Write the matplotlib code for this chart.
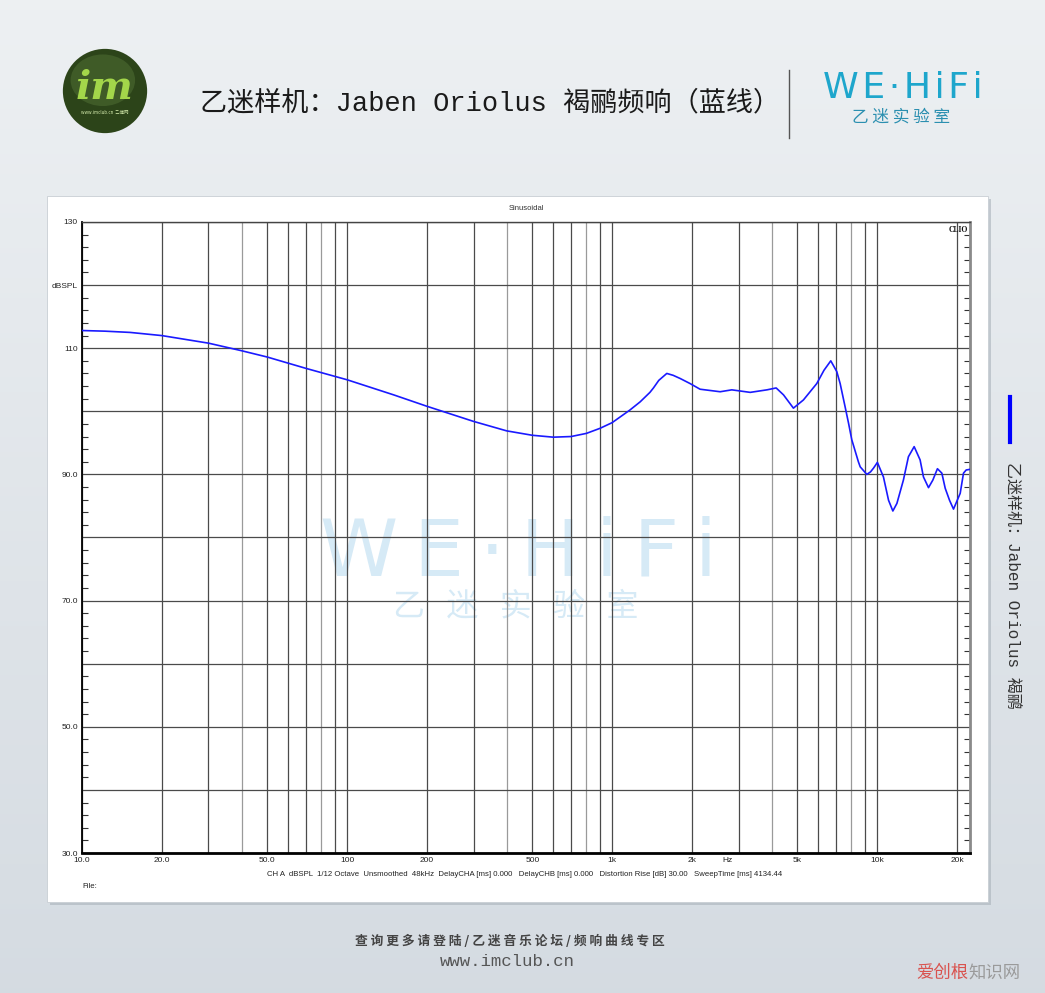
import numpy as np
import matplotlib
matplotlib.use('Agg')
from matplotlib import pyplot as plt
from matplotlib.patches import Rectangle, Circle, Ellipse
from matplotlib.lines import Line2D
from matplotlib.ticker import FixedLocator, FixedFormatter, NullLocator

# frequency response (Hz, dB SPL)
freq = [10, 12.2, 15.2, 20, 30, 40, 50, 70, 100, 150, 200, 300,
        400, 500, 600, 700, 800, 900, 1000, 1167, 1276, 1389, 1432, 1500,
        1608, 1700, 1806, 1968, 2147, 2556, 2829, 3319, 3838, 4159, 4433,
        4831, 5270, 5918, 6300, 6683, 7040, 7250, 7570, 7800, 8020, 8495,
        8630, 9140, 9440, 9690, 10020, 10560, 11040, 11460, 11870, 12560,
        13120, 13790, 14520, 14950, 15620, 16220, 16880, 17540, 18060,
        18750, 19410, 20570, 21170, 21670, 22400]
spl = [112.8, 112.7, 112.5, 112.0, 110.8, 109.6, 108.6, 106.8, 105.0,
       102.6, 100.8, 98.4, 96.9, 96.2, 95.9, 96.0, 96.5, 97.3, 98.2,
       100.2, 101.5, 103.0, 103.7, 104.9, 106.0, 105.7, 105.2, 104.4, 103.5,
       103.1, 103.4, 103.0, 103.4, 103.7, 102.6, 100.5, 101.8, 104.4, 106.5,
       108.0, 106.3, 104.4, 100.7, 98.1, 95.5, 92.0, 91.2, 90.0, 90.4, 91.0,
       91.9, 89.6, 85.9, 84.2, 85.4, 89.1, 92.8, 94.4, 92.3, 89.6, 87.9,
       89.1, 90.9, 90.2, 87.8, 85.9, 84.5, 87.0, 90.2, 90.7, 90.8]

x_labels = {10: '10.0', 20: '20.0', 50: '50.0', 100: '100', 200: '200',
            500: '500', 1000: '1k', 2000: '2k', 2716: 'Hz', 5000: '5k',
            10000: '10k', 20000: '20k'}
y_ticks = [30, 40, 50, 60, 70, 80, 90, 100, 110, 120, 130]
y_labels = ['30.0', '', '50.0', '', '70.0', '', '90.0', '', '110', 'dBSPL', '130']

title = '乙迷样机：Jaben Oriolus 褐鹂频响（蓝线）'
side_title = '乙迷样机：Jaben Oriolus 褐鹂'
info = ('CH A  dBSPL  1/12 Octave  Unsmoothed  48kHz  DelayCHA [ms] 0.000'
        '   DelayCHB [ms] 0.000   Distortion Rise [dB] 30.00   SweepTime [ms] 4134.44')
footer = '查 询 更 多 请 登 陆 / 乙 迷 音 乐 论 坛 / 频 响 曲 线 专 区'
brand = '\u2009'.join('WE·HiFi')
brand_small = '\u200a'.join('WE·HiFi')

CJK = ['Noto Sans CJK SC', 'DejaVu Sans']
MONO_CJK = ['Liberation Mono', 'Noto Sans CJK SC']

W, H = 1045, 993
fig = plt.figure(figsize=(W / 100, H / 100), dpi=100)


def fx(px):
    return px / W


def fy(py):
    return 1 - py / H


# background gradient
bg = fig.add_axes([0, 0, 1, 1], zorder=-10)
top = np.array([0.930, 0.942, 0.952])
bot = np.array([0.835, 0.860, 0.885])
t = np.linspace(0, 1, 200)[:, None, None]
grad = np.repeat(top * (1 - t) + bot * t, 2, axis=1)
bg.imshow(grad, aspect='auto', extent=[0, 1, 0, 1])
bg.set_axis_off()

# white panel with shadow
fig.patches.append(Rectangle((fx(50), fy(905)), fx(941), 706 / H, transform=fig.transFigure,
                             facecolor='#a9b2ba', edgecolor='none', alpha=0.6, zorder=-5))
fig.patches.append(Rectangle((fx(47), fy(902)), fx(941), 706 / H, transform=fig.transFigure,
                             facecolor='white', edgecolor='#c8ced4', lw=0.6, zorder=-4))

# main plot
ax = fig.add_axes([fx(82), fy(853), fx(888), 631 / H])
ax.set_facecolor('white')
ax.set_xscale('log')
ax.set_xlim(10, 22400)
ax.set_ylim(30, 130)

grid_f = [m * 10 ** d for d in range(1, 5) for m in range(1, 10) if m * 10 ** d <= 22400]
for g in grid_f:
    lead = int(round(g / 10 ** int(np.floor(np.log10(g)))))
    col = '#9a9a9a' if lead in (4, 8) else '#4a4a4a'
    ax.axvline(g, color=col, lw=0.9, zorder=1.5)
for yv in y_ticks:
    ax.axhline(yv, color='#4a4a4a', lw=0.9, zorder=1.5)

ax.plot(freq, spl, color='#1a1aff', lw=1.2, zorder=3)

ax.xaxis.set_major_locator(FixedLocator(list(x_labels.keys())))
ax.xaxis.set_major_formatter(FixedFormatter(list(x_labels.values())))
ax.xaxis.set_minor_locator(NullLocator())
ax.set_yticks(y_ticks)
ax.set_yticklabels(y_labels)
ax.set_yticks(np.arange(30, 131, 2), minor=True)
ax.tick_params(axis='both', which='major', length=0, labelsize=6, colors='#222222',
               labelfontfamily='Liberation Sans')
ax.tick_params(axis='x', which='major', pad=3)
ax.tick_params(axis='y', which='major', pad=3)
ax.tick_params(axis='y', which='minor', direction='in', length=4, width=0.8,
               color='#333333', left=True, right=True)

ax.spines['bottom'].set_linewidth(2)
ax.spines['bottom'].set_color('black')
ax.spines['left'].set_linewidth(1.3)
ax.spines['left'].set_color('black')
ax.spines['top'].set_linewidth(1)
ax.spines['top'].set_color('#444444')
ax.spines['right'].set_linewidth(2)
ax.spines['right'].set_color('#8a8a8a')

# watermark behind grid
ax.text(0.491, 0.474, brand, transform=ax.transAxes, ha='center', va='center',
        fontsize=57, color='#d6eaf6', family='DejaVu Sans', zorder=1)
ax.text(0.488, 0.390, '乙   迷   实   验   室', transform=ax.transAxes, ha='center',
        va='center', fontsize=23, color='#d6eaf6', family=CJK, zorder=1)

# CLIO panel texts
fig.text(fx(526), fy(209), 'Sinusoidal', ha='center', va='center', fontsize=5.5,
         color='#333333', family='Liberation Sans')
ax.text(0.998, 0.994, 'CLIO', transform=ax.transAxes, ha='right', va='top',
        fontsize=5.5, fontweight='bold', family='Liberation Serif', color='#111111')
fig.text(fx(267), fy(874), info, ha='left', va='center', fontsize=5.6,
         color='#222222', family='Liberation Sans')
fig.text(fx(82), fy(886), 'File:', ha='left', va='center', fontsize=5.6,
         color='#222222', family='Liberation Sans')

# header title
fig.text(fx(490), fy(103), title, ha='center', va='center', fontsize=19.5,
         color='#1a1a1a', family=MONO_CJK)
fig.lines.append(Line2D([fx(789), fx(789)], [fy(70), fy(138)], transform=fig.transFigure,
                        color='#555555', lw=1))
fig.text(fx(903), fy(88), brand_small, ha='center', va='center', fontsize=26,
         color='#1ea6cc', family='DejaVu Sans')
fig.text(fx(901), fy(117), '乙 迷 实 验 室', ha='center', va='center', fontsize=12,
         color='#2b8fb0', family=CJK)

# im logo
lg = fig.add_axes([fx(62), fy(134), fx(86), 86 / H])
lg.set_xlim(-1, 1)
lg.set_ylim(-1, 1)
lg.set_axis_off()
lg.add_patch(Circle((0, 0), 0.98, facecolor='#2c4419', edgecolor='none'))
lg.add_patch(Ellipse((-0.05, 0.25), 1.5, 1.2, facecolor='#4f6e34', edgecolor='none', alpha=0.55))
lg.text(-0.02, 0.08, 'im', ha='center', va='center', fontsize=29, fontstyle='italic',
        fontweight='bold', family='DejaVu Serif', color='#a3d64a')
lg.text(0, -0.5, 'www.imclub.cn  乙迷网', ha='center', va='center', fontsize=3.2,
        color='#d8efb0', family=CJK)

# right side caption
fig.lines.append(Line2D([fx(1010), fx(1010)], [fy(397), fy(442)], transform=fig.transFigure,
                        color='#0000ff', lw=3))
fig.text(fx(1012), fy(462), side_title, ha='center', va='top', rotation=-90,
         fontsize=11.5, color='#333333', family=MONO_CJK)

# footer
fig.text(fx(510), fy(941), footer, ha='center', va='center', fontsize=9.2,
         fontweight='bold', color='#444444', family=CJK)
fig.text(fx(507), fy(961), 'www.imclub.cn', ha='center', va='center', fontsize=12.5,
         color='#555555', family='Liberation Mono')
fig.text(fx(968), fy(973), '爱创根', ha='right', va='center', fontsize=12.5,
         color='#d9534f', family=CJK)
fig.text(fx(968), fy(973), '知识网', ha='left', va='center', fontsize=12.5,
         color='#9a9a9a', family=CJK)

plt.savefig('out.png', dpi=100)
